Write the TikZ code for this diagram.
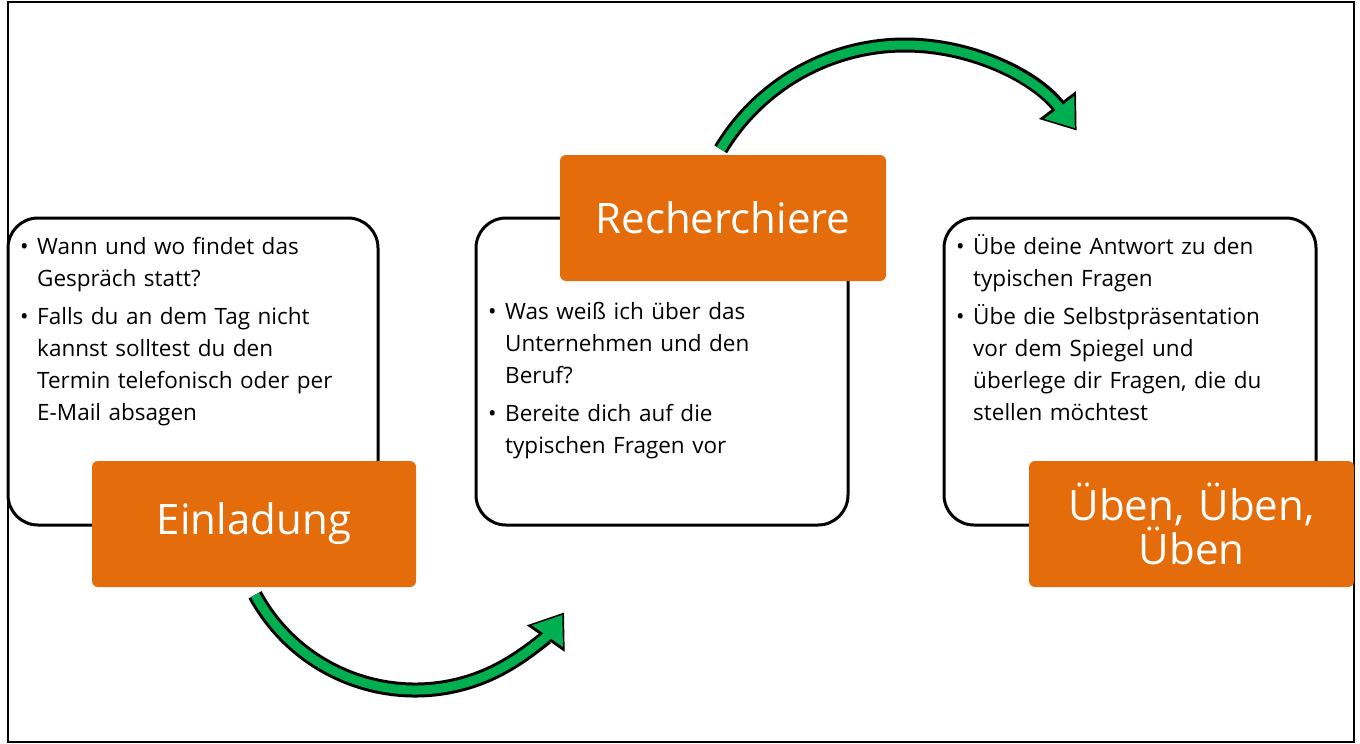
\documentclass[tikz,border=0pt]{standalone}
\usepackage{fontspec}
\setmainfont{Open Sans}
\usetikzlibrary{arrows.meta}
\definecolor{org}{HTML}{E46C0A}
\definecolor{grn}{HTML}{00B050}
\newcommand{\bul}[1]{\par\hangindent=17pt\hangafter=1\noindent\makebox[17pt][l]{\textbullet}#1\par}
\tikzset{
  card/.style={draw=black,line width=3pt,rounded corners=30pt,fill=white},
  title/.style={fill=org,rounded corners=6pt,text=white,font=\fontsize{42}{50}\selectfont,align=center},
  body/.style={anchor=north west,text width=#1,align=left,font=\fontsize{22.5}{32}\selectfont,inner sep=0pt},
  arrblack/.style={draw=black,line width=15pt,-{Triangle[length=32pt,width=44pt]}},
  arrgreen/.style={draw=grn,line width=9pt,shorten >=3pt,-{Triangle[length=26pt,width=36pt]}}
}
\begin{document}
\begin{tikzpicture}[x=1pt,y=-1pt]
\useasboundingbox (0,0) rectangle (1360,744);
\draw[line width=1.2pt] (8,2) rectangle (1354,742);
% arrows
\draw[arrblack] ([shift={(-208.5:182)}]415,508) arc[start angle=-208.5,end angle=-325,radius=182];
\draw[arrgreen] ([shift={(-208.5:182)}]415,508) arc[start angle=-208.5,end angle=-325,radius=182];
\draw[arrblack] ([shift={(-149:215)}]905,260) arc[start angle=-149,end angle=-37,radius=215];
\draw[arrgreen] ([shift={(-149:215)}]905,260) arc[start angle=-149,end angle=-37,radius=215];
% cards
\draw[card] (8,218) rectangle (378,525);
\draw[card] (476,218) rectangle (848,525);
\draw[card] (944,218) rectangle (1316,525);
\node[body=360pt] (t1) at (20,222) {\bul{Wann und wo findet das\newline Gespräch statt?}\vspace{6pt}\bul{Falls du an dem Tag nicht\newline kannst solltest du den\newline Termin telefonisch oder per\newline E-Mail absagen}};
\node[body=360pt] (t2) at (488,287) {\bul{Was weiß ich über das\newline Unternehmen und den\newline Beruf?}\vspace{6pt}\bul{Bereite dich auf die\newline typischen Fragen vor}};
\node[body=360pt] (t3) at (956,222) {\bul{Übe deine Antwort zu den\newline typischen Fragen}\vspace{6pt}\bul{Übe die Selbstpräsentation\newline vor dem Spiegel und\newline überlege dir Fragen, die du\newline stellen möchtest}};
\node[title,minimum width=324pt,minimum height=126pt] (e) at (254,524) {Einladung};
\node[title,minimum width=326pt,minimum height=126pt] (r) at (723,218) {Recherchiere};
\node[title,minimum width=325pt,minimum height=126pt,text width=300pt] (u) at (1191.5,524) {Üben, Üben,\\[-6pt]Üben};
\end{tikzpicture}
\end{document}
